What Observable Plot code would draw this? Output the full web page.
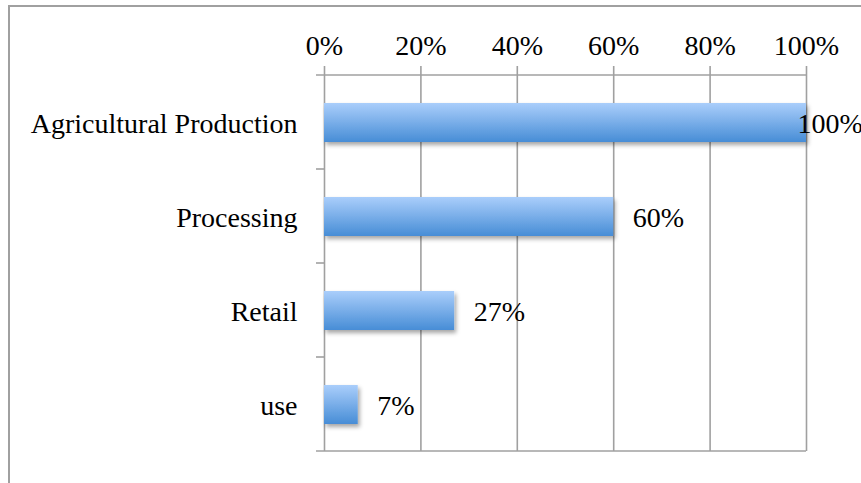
<!DOCTYPE html>
<html><head><meta charset="utf-8">
<script src="https://cdn.jsdelivr.net/npm/d3@7"></script>
<script src="https://cdn.jsdelivr.net/npm/@observablehq/plot@0.6"></script>
<style>
html,body{margin:0;padding:0;background:#fff;overflow:hidden;}
#frame{position:absolute;left:8px;top:5px;width:900px;height:520px;border:2px solid #a0a0a0;box-sizing:border-box;}
#chart{position:absolute;left:0;top:0;}
</style></head><body>
<div id="frame"></div>
<div id="chart"></div>
<script>
const categories = ["Agricultural Production", "Processing", "Retail", "use"];
const shares = [1.00, 0.60, 0.27, 0.07];
const shareLabels = ["100%", "60%", "27%", "7%"];
const xTicks = [0, 0.2, 0.4, 0.6, 0.8, 1.0];
const xTickLabels = ["0%", "20%", "40%", "60%", "80%", "100%"];

const data = categories.map((c, i) => ({category: c, share: shares[i], label: shareLabels[i]}));
const ticks = xTicks.map((t, i) => ({t, label: xTickLabels[i]}));

const lineColor = "#a0a0a0";
const font = "'Liberation Serif', 'Times New Roman', serif";

function decorations(index, scales) {
  const x = scales.x, y = scales.y;
  const step = y(categories[1]) - y(categories[0]);
  const x0 = x(0), x1 = x(1);
  const g = d3.create("svg:g");
  const defs = g.append("defs");
  const grad = defs.append("linearGradient").attr("id", "barGrad")
    .attr("x1", 0).attr("y1", 0).attr("x2", 0).attr("y2", 1);
  grad.append("stop").attr("offset", "0%").attr("stop-color", "#aacefb");
  grad.append("stop").attr("offset", "100%").attr("stop-color", "#478dd6");
  const f = defs.append("filter").attr("id", "barShadow")
    .attr("x", "-10%").attr("y", "-30%").attr("width", "130%").attr("height", "180%");
  f.append("feDropShadow").attr("dx", 2).attr("dy", 3).attr("stdDeviation", 2)
    .attr("flood-color", "#000").attr("flood-opacity", 0.35);
  const ys = categories.map(c => y(c)).concat([y(categories[categories.length - 1]) + step]);
  ys.forEach((yy, i) => {
    const full = i === 0 || i === ys.length - 1;
    g.append("line")
      .attr("x1", x0 - 8).attr("x2", full ? x1 : x0)
      .attr("y1", yy).attr("y2", yy)
      .attr("stroke", lineColor).attr("stroke-width", 1.6);
  });
  return g.node();
}

const chart = Plot.plot({
  width: 861,
  height: 483,
  marginLeft: 324,
  marginRight: 55,
  marginTop: 74,
  marginBottom: 32,
  style: {fontFamily: font, fontSize: "28px", color: "#000", background: "transparent"},
  x: {domain: [0, 1], axis: null},
  y: {domain: categories, padding: 0, axis: null},
  marks: [
    Plot.ruleX(ticks, {x: "t", stroke: lineColor, strokeWidth: 1.6, insetTop: -8}),
    decorations,
    Plot.barX(data, {x: "share", y: "category", fill: "url(#barGrad)", insetTop: 28, insetBottom: 27}),
    Plot.text(ticks, {x: "t", text: "label", frameAnchor: "top", dy: -39, fill: "#000"}),
    Plot.text(data, {y: "category", text: "category", frameAnchor: "left", textAnchor: "end", dx: -27, dy: 1.5, fill: "#000"}),
    Plot.text(data.filter(d => d.share < 0.9), {x: "share", y: "category", text: "label", textAnchor: "start", dx: 19, dy: 1.5, fill: "#000"}),
    Plot.text(data.filter(d => d.share >= 0.9), {x: "share", y: "category", text: "label", textAnchor: "start", dx: -9, dy: 1.5, fill: "#000"})
  ]
});
d3.select(chart).selectAll("rect").filter(function() { return this.getAttribute("fill") === "url(#barGrad)" || (this.parentNode && this.parentNode.getAttribute("fill") === "url(#barGrad)"); })
  .attr("filter", "url(#barShadow)");
document.getElementById("chart").appendChild(chart);
</script>
</body></html>
